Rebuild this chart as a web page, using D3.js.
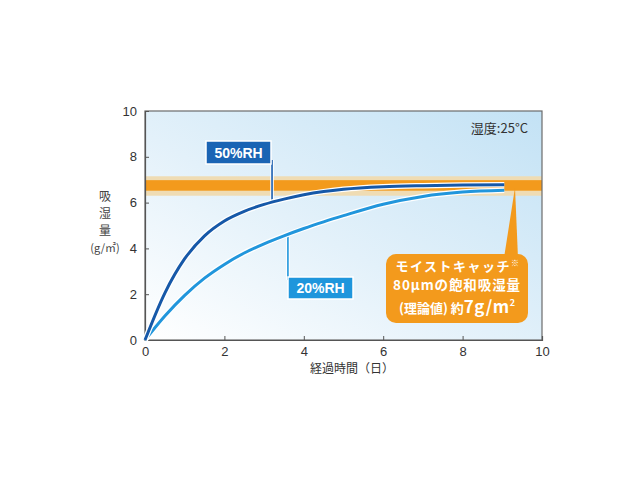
<!DOCTYPE html>
<html><head><meta charset="utf-8">
<script src="https://cdn.jsdelivr.net/npm/d3@7"></script>
<style>body{margin:0;background:#fff}svg{display:block}</style>
</head><body>
<svg id="c" width="640" height="480"></svg>
<script>
const days = [0,0.5,1,1.5,2,2.5,3,3.5,4,4.5,5,6,7,8,9.05];
const rh50 = [0,2.05,3.55,4.55,5.2,5.62,5.92,6.15,6.34,6.48,6.58,6.69,6.74,6.77,6.78];
const rh20 = [0,1.05,1.95,2.7,3.3,3.8,4.2,4.55,4.87,5.16,5.43,5.93,6.27,6.46,6.54];
const xTicks = [0,2,4,6,8,10];
const yTicks = [0,2,4,6,8,10];
const saturation = 6.75;
const satBandInner = [6.52, 6.98];
const satBandOuter = [6.3, 7.15];
const labels = {s50:"50%RH", s20:"20%RH", temp:"湿度:25°C", xTitle:"経過時間（日）", yTitle:["吸","湿","量","(g/㎡)"]};

const svg = d3.select("#c");
const L=145, R=542, T=111, B=340;
const x = d3.scaleLinear().domain([0,10]).range([L,R]);
const y = d3.scaleLinear().domain([0,10]).range([B,T]);
const font = "'Noto Sans CJK JP','Liberation Sans',Arial,sans-serif";
const numFont = "'Liberation Sans',Arial,sans-serif";

const defs = svg.append("defs");
const g = defs.append("linearGradient").attr("id","bg").attr("x1","0").attr("y1","1").attr("x2","1").attr("y2","0");
g.append("stop").attr("offset","0").attr("stop-color","#ffffff");
g.append("stop").attr("offset","0.45").attr("stop-color","#e3f1fa");
g.append("stop").attr("offset","1").attr("stop-color","#c3e2f5");

svg.append("rect").attr("x",L).attr("y",T).attr("width",R-L).attr("height",B-T).attr("fill","url(#bg)");

// saturation bands
svg.append("rect").attr("x",L).attr("width",R-L)
  .attr("y",y(satBandOuter[1])).attr("height",y(satBandOuter[0])-y(satBandOuter[1]))
  .attr("fill","#efdcb4");
svg.append("rect").attr("x",L).attr("width",R-L)
  .attr("y",y(satBandInner[1])).attr("height",y(satBandInner[0])-y(satBandInner[1]))
  .attr("fill","#f39a1c");

// frame
svg.append("rect").attr("x",L).attr("y",T).attr("width",R-L).attr("height",B-T)
  .attr("fill","none").attr("stroke","#6b6b6b").attr("stroke-width",1.2);

// axes ticks inward
const xAxis = d3.axisBottom(x).tickValues(xTicks).tickSize(-4).tickPadding(7).tickFormat(d3.format("d"));
const yAxis = d3.axisLeft(y).tickValues(yTicks).tickSize(-4).tickPadding(8).tickFormat(d3.format("d"));
const gx = svg.append("g").attr("transform",`translate(0,${B})`).call(xAxis);
const gy = svg.append("g").attr("transform",`translate(${L},0)`).call(yAxis);
[gx,gy].forEach(a=>{
  a.select(".domain").attr("stroke","#555").attr("stroke-width",1.2);
  a.selectAll(".tick line").attr("stroke","#555");
  a.selectAll(".tick text").attr("font-family",numFont).attr("font-size",13).attr("fill","#333");
});

// leader lines
const line = d3.line().x((d,i)=>x(days[i])).y(d=>y(d)).curve(d3.curveMonotoneX);
function leader(x0,y0,y1,color){
  svg.append("line").attr("x1",x0).attr("x2",x0).attr("y1",y0).attr("y2",y1).attr("stroke","#fff").attr("stroke-width",3.5);
  svg.append("line").attr("x1",x0).attr("x2",x0).attr("y1",y0).attr("y2",y1).attr("stroke",color).attr("stroke-width",1.6);
}
leader(x(3.2), y(6.0)+1, 160, "#1a5fb0");
leader(x(3.6), y(4.6), 280, "#1f96dc");

// curves
[[rh20,"#2196dc"],[rh50,"#1658a8"]].forEach(([d,c])=>{
  svg.append("path").datum(d).attr("d",line).attr("fill","none").attr("stroke","#fff").attr("stroke-width",5.5);
  svg.append("path").datum(d).attr("d",line).attr("fill","none").attr("stroke",c).attr("stroke-width",3);
});

// label boxes
function box(x0,y0,w,h,color,text){
  svg.append("rect").attr("x",x0).attr("y",y0).attr("width",w).attr("height",h).attr("fill",color).attr("stroke","#fff").attr("stroke-width",1.5);
  svg.append("text").attr("x",x0+w/2).attr("y",y0+h/2+5).attr("text-anchor","middle")
    .attr("font-family",numFont).attr("font-weight","bold").attr("font-size",14).attr("fill","#fff").text(text);
}
box(206,141,65,23,"#1a64b4",labels.s50);
box(288,277,65,22,"#1f96dc",labels.s20);

// callout
const cx0=386, cy0=254, cw=142, ch=69;
svg.append("path").attr("d",`M504,${cy0+4} L515,${y(saturation)+2} L518,${cy0+4} Z`).attr("fill","#f39a1c");
svg.append("rect").attr("x",cx0).attr("y",cy0).attr("width",cw).attr("height",ch).attr("rx",10).attr("fill","#f39a1c");
const ct = svg.append("g").attr("font-family",font).attr("font-weight","bold").attr("fill","#fff").attr("text-anchor","middle");
const t1 = ct.append("text").attr("x",cx0+cw/2+1).attr("y",270.5).attr("font-size",13).attr("letter-spacing",1.5);
t1.append("tspan").text("モイストキャッチ");
t1.append("tspan").attr("font-size",8).attr("dy",-5).text("※");
ct.append("text").attr("x",cx0+cw/2).attr("y",289.5).attr("font-size",13.5).attr("letter-spacing",0.9).text("80μmの飽和吸湿量");
const t3 = ct.append("text").attr("x",cx0+cw/2).attr("y",313).attr("font-size",13);
t3.append("tspan").text("(理論値) 約");
t3.append("tspan").attr("font-size",17).attr("letter-spacing",0.5).text("7g/m");
t3.append("tspan").attr("font-size",9).attr("dy",-7).text("2");

// temperature
svg.append("text").attr("x",528).attr("y",133).attr("text-anchor","end").attr("font-family",font)
  .attr("font-size",13).attr("fill","#333").text(labels.temp);

// axis titles
svg.append("text").attr("x",352).attr("y",373).attr("text-anchor","middle").attr("font-family",font)
  .attr("font-size",12).attr("fill","#333").text(labels.xTitle);
labels.yTitle.forEach((s,i)=>{
  svg.append("text").attr("text-anchor","middle").attr("font-family",font).attr("fill","#444")
    .attr("x",105).attr("y",[201,218,235,252][i]).attr("font-size",i==3?11:12).text(s);
});
</script>
</body></html>
